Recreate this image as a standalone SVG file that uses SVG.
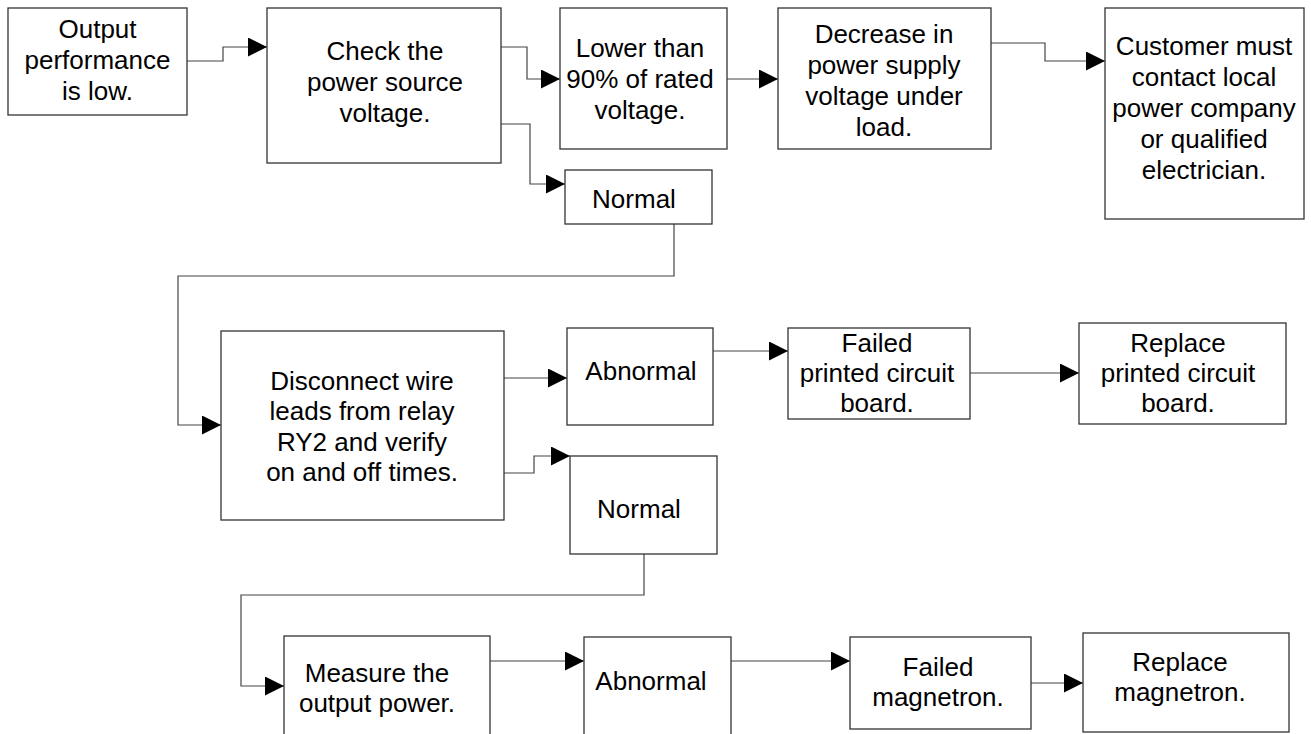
<svg xmlns="http://www.w3.org/2000/svg" width="1311" height="734" viewBox="0 0 1311 734">
<defs>
<style>
.box{fill:#fff;stroke:#333;stroke-width:1.3}
.lbl{font-family:"Liberation Sans",Arial,sans-serif;font-size:26px;fill:#000;text-anchor:middle}
.con{fill:none;stroke:#444;stroke-width:1.2;marker-end:url(#arr)}
</style>
<marker id="arr" markerUnits="userSpaceOnUse" markerWidth="19" markerHeight="19" refX="19" refY="9.5" orient="auto" viewBox="0 0 19 19">
<path d="M0,0 L19,9.5 L0,19 Z" fill="#000"/>
</marker>
</defs>
<rect width="1311" height="734" fill="#fff"/>
<g id="connectors">
<path class="con" d="M187,61 H223 V47 H267"/>
<path class="con" d="M501,47 H527 V79 H560"/>
<path class="con" d="M501,124 H530 V184 H565"/>
<path class="con" d="M727,79 H778"/>
<path class="con" d="M991,43 H1045 V61 H1105"/>
<path class="con" d="M674,224 V276 H178 V425 H221"/>
<path class="con" d="M504,378 H567"/>
<path class="con" d="M504,473 H534 V456 H570"/>
<path class="con" d="M713,351 H788"/>
<path class="con" d="M970,373 H1079"/>
<path class="con" d="M644,554 V595 H241 V686 H284"/>
<path class="con" d="M490,661 H584"/>
<path class="con" d="M731,661 H850"/>
<path class="con" d="M1031,683 H1083"/>
</g>
<g id="n1"><rect class="box" x="8" y="8" width="179" height="107"/>
<text class="lbl" x="97.5" y="38">Output</text><text class="lbl" x="97.5" y="69">performance</text><text class="lbl" x="97.5" y="100">is low.</text></g>
<g id="n2"><rect class="box" x="267" y="8" width="234" height="155"/>
<text class="lbl" x="385" y="60">Check the</text><text class="lbl" x="385" y="91">power source</text><text class="lbl" x="385" y="122">voltage.</text></g>
<g id="n3"><rect class="box" x="560" y="8" width="167" height="141"/>
<text class="lbl" x="640" y="57">Lower than</text><text class="lbl" x="640" y="88">90% of rated</text><text class="lbl" x="640" y="119">voltage.</text></g>
<g id="n4"><rect class="box" x="778" y="8" width="213" height="141"/>
<text class="lbl" x="884" y="43">Decrease in</text><text class="lbl" x="884" y="74">power supply</text><text class="lbl" x="884" y="105">voltage under</text><text class="lbl" x="884" y="136">load.</text></g>
<g id="n5"><rect class="box" x="1105" y="8" width="199" height="211"/>
<text class="lbl" x="1204" y="55">Customer must</text><text class="lbl" x="1204" y="86">contact local</text><text class="lbl" x="1204" y="117">power company</text><text class="lbl" x="1204" y="148">or qualified</text><text class="lbl" x="1204" y="179">electrician.</text></g>
<g id="n6"><rect class="box" x="565" y="170" width="147" height="54"/>
<text class="lbl" x="634" y="208">Normal</text></g>
<g id="n7"><rect class="box" x="221" y="331" width="283" height="189"/>
<text class="lbl" x="362" y="390">Disconnect wire</text><text class="lbl" x="362" y="420">leads from relay</text><text class="lbl" x="362" y="451">RY2 and verify</text><text class="lbl" x="362" y="481">on and off times.</text></g>
<g id="n8"><rect class="box" x="567" y="328" width="146" height="97"/>
<text class="lbl" x="641" y="380">Abnormal</text></g>
<g id="n9"><rect class="box" x="788" y="328" width="182" height="91"/>
<text class="lbl" x="877" y="352">Failed</text><text class="lbl" x="877" y="382">printed circuit</text><text class="lbl" x="877" y="412">board.</text></g>
<g id="n10"><rect class="box" x="1079" y="323" width="207" height="101"/>
<text class="lbl" x="1178" y="352">Replace</text><text class="lbl" x="1178" y="382">printed circuit</text><text class="lbl" x="1178" y="412">board.</text></g>
<g id="n11"><rect class="box" x="570" y="456" width="147" height="98"/>
<text class="lbl" x="639" y="518">Normal</text></g>
<g id="n12"><rect class="box" x="284" y="636" width="206" height="110"/>
<text class="lbl" x="377" y="682">Measure the</text><text class="lbl" x="377" y="712">output power.</text></g>
<g id="n13"><rect class="box" x="584" y="637" width="147" height="110"/>
<text class="lbl" x="651" y="690">Abnormal</text></g>
<g id="n14"><rect class="box" x="850" y="637" width="181" height="92"/>
<text class="lbl" x="938" y="676">Failed</text><text class="lbl" x="938" y="706">magnetron.</text></g>
<g id="n15"><rect class="box" x="1083" y="633" width="206" height="99"/>
<text class="lbl" x="1180" y="671">Replace</text><text class="lbl" x="1180" y="701">magnetron.</text></g>
</svg>
